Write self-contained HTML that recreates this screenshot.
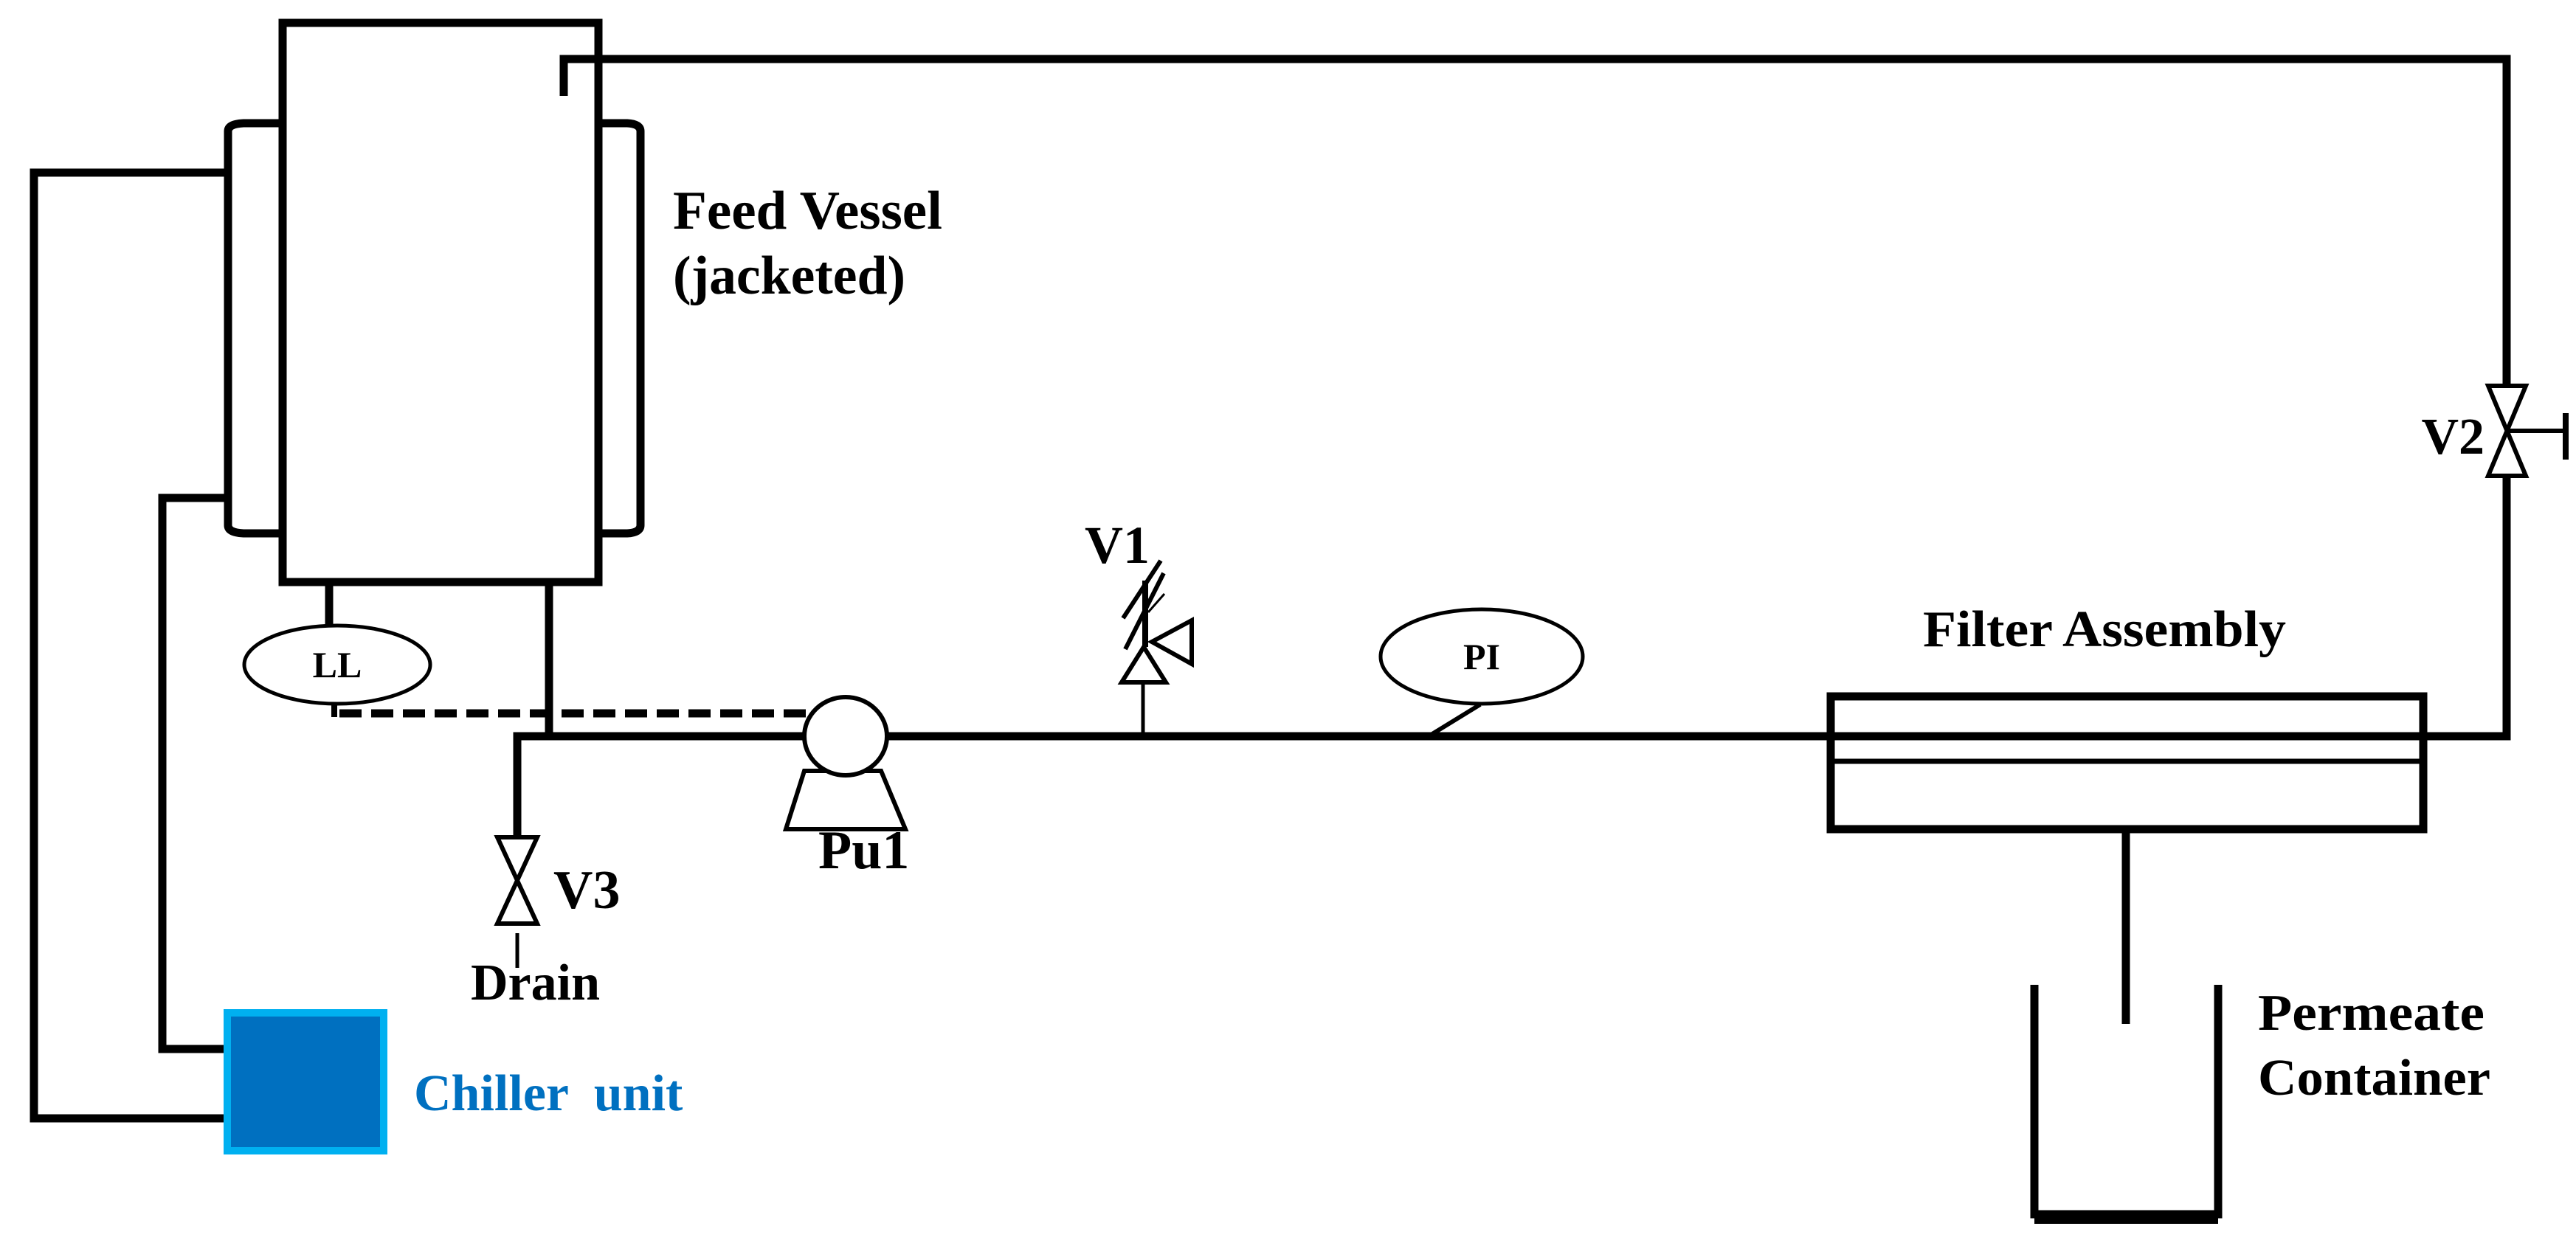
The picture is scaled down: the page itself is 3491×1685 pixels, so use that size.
<!DOCTYPE html>
<html><head><meta charset="utf-8"><style>
html,body{margin:0;padding:0;background:#fff}
svg{display:block}
text{font-family:"Liberation Serif",serif;font-weight:bold}
</style></head><body>
<svg width="3491" height="1685" viewBox="0 0 3491 1685" xmlns="http://www.w3.org/2000/svg">
<g fill="none" stroke="#000" stroke-width="11" stroke-linejoin="miter">
<!-- vessel -->
<rect x="383" y="31" width="428" height="758"/>
<!-- jackets -->
<path d="M383 167 L330 167 Q309 168 309 178 L309 712 Q309 722 330 723 L383 723"/>
<path d="M811 167 L850 167 Q868 168 868 178 L868 712 Q868 722 850 723 L811 723"/>
<!-- chiller loops -->
<path d="M309 234 L46 234 L46 1516 L307 1516"/>
<path d="M309 675 L220 675 L220 1422 L307 1422"/>
<!-- return pipe top -->
<path d="M764 130 L764 80 L3397 80 L3397 523"/>
<path d="M3397 645 L3397 998 L3284 998"/>
<!-- main pipe -->
<path d="M744 789 L744 1000"/>
<path d="M701 1133 L701 998 L1090 998"/>
<path d="M1202 998 L2481 998"/>
<!-- LL stem -->
<path d="M446 789 L446 847"/>
<!-- filter -->
<rect x="2481" y="944" width="803" height="180"/>
<path d="M2881 1124 L2881 1388"/>
<!-- container -->
<path d="M2757 1335 L2757 1646 L3006 1646 L3006 1335"/>
</g>
<line x1="2757" y1="1650" x2="3006" y2="1650" stroke="#000" stroke-width="18"/>
<line x1="2481" y1="1032" x2="3284" y2="1032" stroke="#000" stroke-width="7"/>
<line x1="2481" y1="998" x2="3284" y2="998" stroke="#000" stroke-width="11"/>
<!-- dashed signal -->
<line x1="460" y1="967" x2="1092" y2="967" stroke="#000" stroke-width="11" stroke-dasharray="30,13"/>
<line x1="453" y1="945" x2="453" y2="972" stroke="#000" stroke-width="8"/>
<!-- LL -->
<ellipse cx="457" cy="901" rx="126" ry="53" fill="#fff" stroke="#000" stroke-width="5"/>
<text x="457" y="918" font-size="50" text-anchor="middle">LL</text>
<!-- pump -->
<path d="M1090 1045 L1194 1045 L1227 1124 L1065 1124 Z" fill="#fff" stroke="#000" stroke-width="6"/>
<ellipse cx="1146" cy="998" rx="56" ry="53" fill="#fff" stroke="#000" stroke-width="6"/>
<text x="1109" y="1177" font-size="74">Pu1</text>
<!-- V3 -->
<g fill="#fff" stroke="#000" stroke-width="6">
<path d="M674 1135 L728 1135 L674 1252 L728 1252 Z"/>
</g>
<line x1="701" y1="1265" x2="701" y2="1312" stroke="#000" stroke-width="5"/>
<text x="750" y="1231" font-size="74">V3</text>
<text x="638" y="1355" font-size="70">Drain</text>
<!-- V1 -->
<g stroke="#000" fill="#fff" stroke-width="6">
<line x1="1549" y1="998" x2="1549" y2="925" stroke-width="5"/>
<path d="M1520 925 L1580 925 L1550 877 Z"/>
<path d="M1615 841 L1615 900 L1561 870 Z"/>
<line x1="1552" y1="877" x2="1552" y2="787" stroke-width="8"/>
<line x1="1522" y1="838" x2="1573" y2="760"/>
<line x1="1525" y1="880" x2="1577" y2="777"/>
<line x1="1556" y1="830" x2="1578" y2="805" stroke-width="3"/>
</g>
<text x="1558" y="763" font-size="72" text-anchor="end">V1</text>
<!-- PI -->
<line x1="2006" y1="955" x2="1936" y2="998" stroke="#000" stroke-width="6"/>
<ellipse cx="2008" cy="890" rx="137" ry="64" fill="#fff" stroke="#000" stroke-width="5"/>
<text x="2008" y="907" font-size="50" text-anchor="middle">PI</text>
<!-- V2 -->
<path d="M3372 523 L3423 523 L3372 645 L3423 645 Z" fill="#fff" stroke="#000" stroke-width="6"/>
<line x1="3397" y1="584" x2="3477" y2="584" stroke="#000" stroke-width="6"/>
<line x1="3477" y1="560" x2="3477" y2="623" stroke="#000" stroke-width="8"/>
<text x="3367" y="615" font-size="70" text-anchor="end">V2</text>
<!-- chiller -->
<rect x="308" y="1373" width="212" height="187" fill="#0070c0" stroke="#00b0f0" stroke-width="10"/>
<text x="561" y="1505" font-size="70" fill="#0070c0" xml:space="preserve">Chiller  unit</text>
<!-- labels -->
<text x="912" y="310" font-size="74" textLength="365" lengthAdjust="spacingAndGlyphs">Feed Vessel</text>
<text x="912" y="398" font-size="74" textLength="315" lengthAdjust="spacingAndGlyphs">(jacketed)</text>
<text x="2606" y="876" font-size="70" textLength="492" lengthAdjust="spacingAndGlyphs">Filter Assembly</text>
<text x="3060" y="1396" font-size="70" textLength="307" lengthAdjust="spacingAndGlyphs">Permeate</text>
<text x="3060" y="1484" font-size="70" textLength="315" lengthAdjust="spacingAndGlyphs">Container</text>
</svg>
</body></html>
